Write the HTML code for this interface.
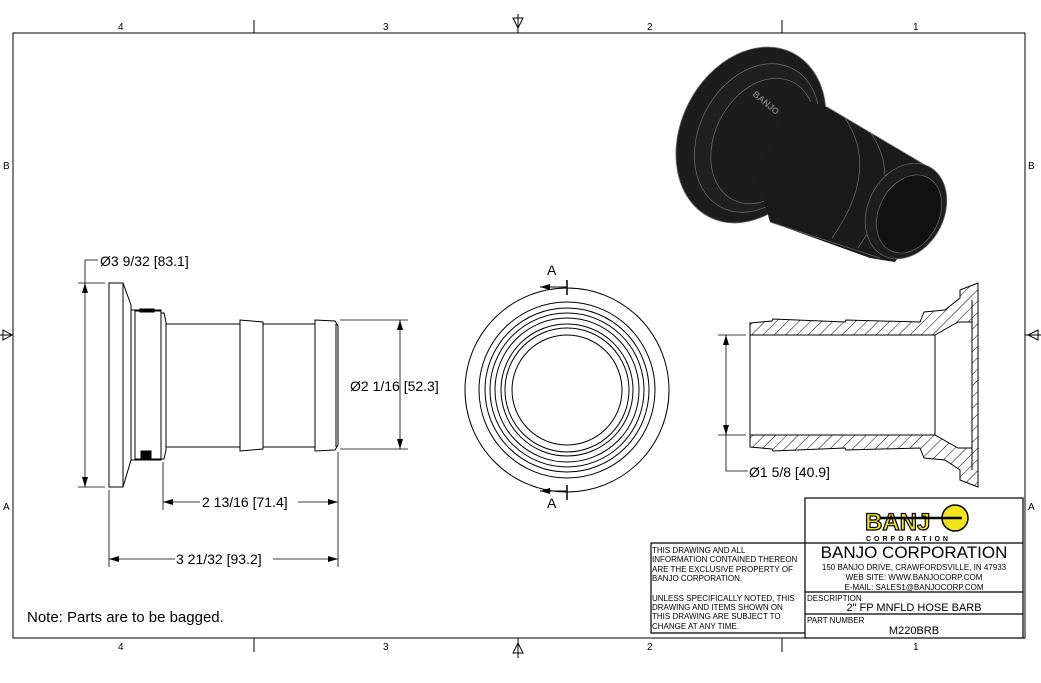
<!DOCTYPE html>
<html><head><meta charset="utf-8"><style>
html,body{margin:0;padding:0;background:#fff}
svg{display:block}
text{font-family:"Liberation Sans",Arial,sans-serif;fill:#000}
</style></head><body>
<svg width="1041" height="683" viewBox="0 0 1041 683" xmlns="http://www.w3.org/2000/svg">
<defs>
<marker id="ar" viewBox="0 0 10 6" refX="10" refY="3" markerWidth="10" markerHeight="6" orient="auto-start-reverse" markerUnits="userSpaceOnUse"><path d="M0,0 L10,3 L0,6z" fill="#000"/></marker>
<pattern id="hatch" width="8" height="8" patternUnits="userSpaceOnUse" patternTransform="rotate(45)"><rect width="8" height="8" fill="#fff"/><line x1="0" y1="0" x2="0" y2="8" stroke="#000" stroke-width="1"/></pattern>
</defs>
<rect x="13" y="33" width="1012" height="605" fill="none" stroke="#000" stroke-width="1"/>
<g stroke="#000" stroke-width="1">
<line x1="254" y1="20" x2="254" y2="33"/><line x1="782" y1="20" x2="782" y2="33"/>
<line x1="254" y1="638" x2="254" y2="652"/><line x1="782" y1="638" x2="782" y2="652"/>
<line x1="0" y1="335" x2="13" y2="335"/><line x1="1025" y1="335" x2="1041" y2="335"/>
<line x1="518" y1="14" x2="518" y2="33"/><line x1="518" y1="638" x2="518" y2="658"/>
</g>
<path d="M513,18 L523,18 L518,28z M513,653 L523,653 L518,643z M3,330 L3,340 L12,335z M1038,330 L1038,340 L1028,335z" fill="none" stroke="#000"/>
<g font-size="10">
<text x="118" y="30">4</text><text x="383" y="30">3</text><text x="647" y="30">2</text><text x="913" y="30">1</text>
<text x="118" y="650">4</text><text x="383" y="650">3</text><text x="647" y="650">2</text><text x="913" y="650">1</text>
<text x="3" y="169">B</text><text x="1028" y="169">B</text><text x="3" y="510">A</text><text x="1028" y="510">A</text>
</g>

<!-- 3D view -->
<g stroke="#666" stroke-width="0.8">
<ellipse cx="751" cy="135" rx="70" ry="92" transform="rotate(27 751 135)" fill="#1c1c1c"/>
<ellipse cx="757" cy="138" rx="58" ry="78" transform="rotate(27 757 138)" fill="#1f1f1f"/>
<ellipse cx="763" cy="141" rx="48" ry="66" transform="rotate(27 763 141)" fill="#1c1c1c"/>
<polygon points="790,95 827,107 925,165 942,195 895,262 870,258 770,222 758,180" fill="#1a1a1a" stroke="none"/>
<path d="M827,107 L925,165 M770,222 L880,258" fill="none"/>
<path d="M845,118 Q880,170 832,238" fill="none"/>
<path d="M870,132 Q905,180 858,248" fill="none"/>
<ellipse cx="906" cy="211" rx="38" ry="50" transform="rotate(27 906 211)" fill="#1d1d1d"/>
<ellipse cx="909" cy="214" rx="30" ry="41" transform="rotate(27 909 214)" fill="#111"/>
</g>
<text x="752" y="95" font-size="9" font-weight="bold" transform="rotate(40 752 95)" style="fill:#777">BANJO</text>

<!-- left view -->
<g stroke="#000" stroke-width="1" fill="#fff">
<path d="M109,283 L123,283 L131,305 L131,460 L123,487 L109,487z"/>
<line x1="123" y1="283" x2="123" y2="487"/>
<rect x="131" y="310" width="30" height="150"/>
<rect x="135" y="311" width="26" height="148"/>
<path d="M161,313 L164,313 L166,322 L166,450 L164,459 L161,459z"/>
<rect x="166" y="324" width="74" height="123"/>
<path d="M240,320 L263,322 L263,449 L240,451z"/>
<rect x="263" y="324" width="52" height="123"/>
<path d="M315,320 L335,321 L338,326 L338,445 L335,450 L315,451z"/>
<line x1="336" y1="324" x2="336" y2="447"/>
<rect x="140" y="309" width="14" height="3" fill="#000"/><rect x="141" y="451" width="10" height="7" fill="#000"/>
</g>
<g stroke="#000" stroke-width="0.8" fill="none">
<line x1="78" y1="283" x2="105" y2="283"/><line x1="78" y1="487" x2="105" y2="487"/>
<line x1="85" y1="283" x2="85" y2="487" marker-start="url(#ar)" marker-end="url(#ar)"/>
<polyline points="85,283 85,260 98,260"/>
<line x1="340" y1="320" x2="408" y2="320"/><line x1="340" y1="449" x2="408" y2="449"/>
<line x1="400" y1="320" x2="400" y2="449" marker-start="url(#ar)" marker-end="url(#ar)"/>
<line x1="163" y1="462" x2="163" y2="510"/><line x1="338" y1="452" x2="338" y2="567"/>
<line x1="109" y1="490" x2="109" y2="567"/>
<line x1="163" y1="502" x2="200" y2="502" marker-start="url(#ar)"/><line x1="298" y1="502" x2="338" y2="502" marker-end="url(#ar)"/>
<line x1="109" y1="559" x2="175" y2="559" marker-start="url(#ar)"/><line x1="273" y1="559" x2="338" y2="559" marker-end="url(#ar)"/>
</g>
<g font-size="14">
<text x="100" y="266">Ø3 9/32 [83.1]</text>
<text x="350" y="391">Ø2 1/16 [52.3]</text>
<text x="202" y="507">2 13/16 [71.4]</text>
<text x="176" y="564">3 21/32 [93.2]</text>
</g>

<!-- front view -->
<g stroke="#000" stroke-width="1" fill="none">
<circle cx="567" cy="390" r="102"/><circle cx="567" cy="390" r="88"/><circle cx="567" cy="390" r="82"/>
<circle cx="567" cy="390" r="77"/><circle cx="567" cy="390" r="72"/><circle cx="567" cy="390" r="66"/>
<circle cx="567" cy="390" r="62"/><circle cx="567" cy="390" r="55"/>
<line x1="567" y1="280" x2="567" y2="295" stroke-width="1.5"/><line x1="567" y1="485" x2="567" y2="500" stroke-width="1.5"/>
<line x1="567" y1="287" x2="540" y2="287" marker-end="url(#ar)"/><line x1="567" y1="491" x2="540" y2="491" marker-end="url(#ar)"/>
</g>
<text x="547" y="275" font-size="14">A</text><text x="547" y="508" font-size="14">A</text>

<!-- section view -->
<g stroke="#000" stroke-width="1">
<path d="M750,323 L772,321 L773,319 L845,322 L846,320 L920,322 L924,312 L945,310 L960,298 L960,290 L978,283 L978,487 L960,480 L960,470 L945,460 L924,458 L920,448 L846,450 L845,448 L773,451 L772,449 L750,447 Z" fill="url(#hatch)"/>
<path d="M750,335 L935,335 L958,322 L972,322 L972,448 L958,448 L935,435 L750,435Z" fill="#fff"/>
<line x1="935" y1="335" x2="935" y2="435"/><line x1="972" y1="300" x2="972" y2="470"/>
</g>
<g stroke="#000" stroke-width="0.8" fill="none">
<line x1="718" y1="335" x2="746" y2="335"/><line x1="718" y1="435" x2="746" y2="435"/>
<line x1="726" y1="335" x2="726" y2="435" marker-start="url(#ar)" marker-end="url(#ar)"/>
<polyline points="726,435 726,471 748,471"/>
</g>
<text x="749" y="477" font-size="14">Ø1 5/8 [40.9]</text>

<text x="27" y="622" font-size="15">Note: Parts are to be bagged.</text>

<!-- title block -->
<g stroke="#000" stroke-width="1.2" fill="none">
<rect x="805" y="498" width="218" height="140"/>
<line x1="805" y1="543" x2="1023" y2="543"/><line x1="805" y1="592" x2="1023" y2="592"/><line x1="805" y1="614" x2="1023" y2="614"/>
<polyline points="805,543 651,543 651,633 805,633"/>
</g>
<text x="865" y="530" font-size="24" font-weight="bold" style="fill:#f2e51c;stroke:#000;stroke-width:1.2">BANJ</text>
<circle cx="955" cy="518" r="13" fill="#f2e51c" stroke="#000" stroke-width="1.5"/>
<line x1="880" y1="518" x2="962" y2="518" stroke="#000" stroke-width="2.5"/>
<text x="866" y="541" font-size="7" font-weight="bold" letter-spacing="3">CORPORATION</text>
<g font-size="8">
<text x="652" y="553">THIS DRAWING AND ALL</text>
<text x="652" y="562">INFORMATION CONTAINED THEREON</text>
<text x="652" y="572">ARE THE EXCLUSIVE PROPERTY OF</text>
<text x="652" y="581">BANJO CORPORATION.</text>
<text x="652" y="601">UNLESS SPECIFICALLY NOTED, THIS</text>
<text x="652" y="610">DRAWING AND ITEMS SHOWN ON</text>
<text x="652" y="619">THIS DRAWING ARE SUBJECT TO</text>
<text x="652" y="629">CHANGE AT ANY TIME.</text>
<text x="807" y="601">DESCRIPTION</text>
<text x="807" y="623">PART NUMBER</text>
</g>
<text x="914" y="558" font-size="17" text-anchor="middle">BANJO CORPORATION</text>
<g font-size="8" text-anchor="middle">
<text x="914" y="570">150 BANJO DRIVE, CRAWFORDSVILLE, IN 47933</text>
<text x="914" y="580">WEB SITE: WWW.BANJOCORP.COM</text>
<text x="914" y="590">E-MAIL: SALES1@BANJOCORP.COM</text>
</g>
<text x="914" y="611" font-size="11" text-anchor="middle">2" FP MNFLD HOSE BARB</text>
<text x="914" y="634" font-size="11" text-anchor="middle">M220BRB</text>
</svg>
</body></html>
